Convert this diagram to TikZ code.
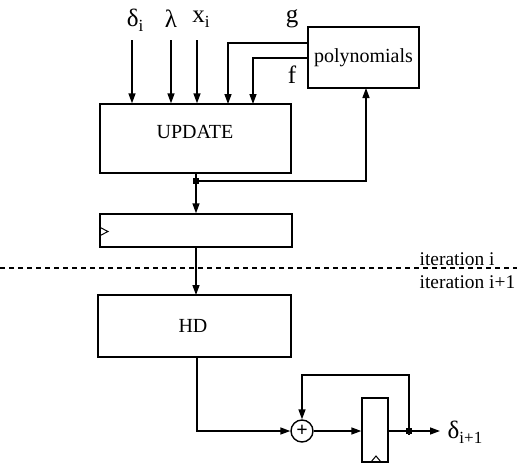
\documentclass[tikz,border=0pt]{standalone}
\usepackage{fontspec}
\setmainfont{Liberation Serif}
\usetikzlibrary{arrows.meta}
\newcommand{\symlab}[2]{{\fontsize{25}{25}\selectfont #1}\raisebox{-5pt}{\fontsize{17}{17}\selectfont #2}}
\begin{document}
\begin{tikzpicture}[x=1pt,y=-1pt,
  line width=1.4pt,
  box/.style={draw, line width=1.4pt, inner sep=0pt, rectangle},
  txt/.style={inner sep=0pt, font=\fontsize{20}{20}\selectfont},
  ittxt/.style={inner sep=0pt, font=\fontsize{19.4}{19.4}\selectfont, anchor=west},
  arr/.style={-{Triangle[length=10pt,width=7pt]}},
  dotc/.style={circle, fill, draw, line width=0pt, inner sep=0pt, minimum size=6pt}]
\useasboundingbox (0,0) rectangle (517,466);
% boxes
\node[box, minimum width=191pt, minimum height=69pt] (update) at (195.5,138.5) {};
\node[txt] (updtxt) at (195,132) {UPDATE};
\node[box, minimum width=111pt, minimum height=61pt] (poly) at (363.5,57.5) {};
\node[txt] (polytxt) at (363.5,58) {polynomials};
\node[box, minimum width=192pt, minimum height=33pt] (reg) at (196,230.5) {};
\node[box, minimum width=193pt, minimum height=62pt] (hd) at (194.5,326) {};
\node[txt] (hdtxt) at (193,326) {HD};
\node[draw, circle, minimum size=22pt, inner sep=0pt] (add) at (302,431) {};
\node[inner sep=0pt, font=\fontsize{20}{20}\selectfont\bfseries] (plus) at (302,431) {+};
\node[box, minimum width=26pt, minimum height=64pt] (reg2) at (375,430) {};
% clock marks
\draw[line width=1pt] (reg.west |- 0,227) -- (108,231.5) -- (reg.west |- 0,236);
\draw[line width=1pt] (371,462) -- (376,456) -- (381,462);
% input labels
\node[inner sep=0pt] (ldelta) at (135,20) {\symlab{δ}{i}};
\node[inner sep=0pt] (llambda) at (171,19) {\fontsize{25}{25}\selectfont λ};
\node[inner sep=0pt] (lx) at (201,19) {\symlab{x}{i}};
\node[inner sep=0pt, font=\fontsize{25}{25}\selectfont] (lg) at (292,19) {g};
\node[inner sep=0pt, font=\fontsize{25}{25}\selectfont] (lf) at (292,75) {f};
% input arrows
\coordinate (d0) at (132,40);
\coordinate (l0) at (171,40);
\coordinate (x0) at (197,40);
\draw[arr] (d0) -- (d0 |- update.north);
\draw[arr] (l0) -- (l0 |- update.north);
\draw[arr] (x0) -- (x0 |- update.north);
\coordinate (gy) at (308,43);
\coordinate (gx) at (228,104);
\coordinate (fy) at (308,58);
\coordinate (fx) at (253,104);
\draw[arr] (gy) -| (gx);
\draw[arr] (fy) -| (fx);
% update output
\coordinate (uout) at (196,173);
\node[dotc] (dot1) at (196,181) {};
\draw (uout) -- (dot1.center);
\draw[arr] (dot1.center) -- (dot1 |- reg.north);
\coordinate (pin) at (366,88);
\draw[arr] (dot1.center) -| (pin);
% register to HD
\draw[arr] (196,247) -- (196,295);
% HD to adder
\coordinate (hout) at (197,357);
\draw[arr] (hout) |- (add.west);
\draw[arr] (add.east) -- (reg2.west |- add.east);
\node[dotc] (dot2) at (409,431) {};
\draw (reg2.east |- dot2) -- (dot2.center);
\coordinate (oend) at (440,431);
\draw[arr] (dot2.center) -- (oend);
\coordinate (fb) at (302,375);
\draw[arr] (dot2.center) |- (fb) -- (add.north);
\node[inner sep=0pt, anchor=west] (lout) at (447,432) {\symlab{δ}{i+1}};
% iteration line
\coordinate (dl) at (0,268);
\coordinate (dr) at (517,268);
\draw[dash pattern=on 5pt off 4pt, line width=1.2pt] (dl) -- (dr);
\node[ittxt] (it1) at (419,259) {iteration i};
\node[ittxt] (it2) at (419,282) {iteration i+1};
\end{tikzpicture}
\end{document}
